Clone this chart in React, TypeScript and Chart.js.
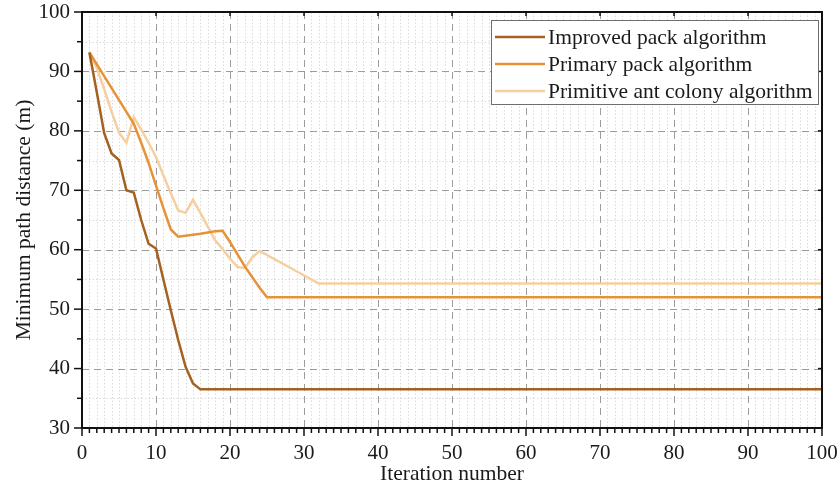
import React, { useEffect, useRef } from "react";
import { Chart, registerables } from "chart.js";

Chart.register(...registerables);

// Series vertices (iteration number, minimum path distance)
const improvedIter = [1, 2, 3, 4, 5, 6, 7, 8, 9, 10, 11, 12, 13, 14, 15, 16, 100];
const improvedVal = [93.2, 86.5, 79.6, 76.2, 75.1, 70.0, 69.6, 65.0, 61.0, 60.2, 55.0, 49.8, 44.8, 40.3, 37.5, 36.5, 36.5];

const primaryIter = [1, 6, 7, 8, 9, 10, 11, 12, 13, 16, 18, 19, 20, 22, 24, 25, 100];
const primaryVal = [93.2, 83.2, 81.2, 78.0, 74.6, 70.8, 67.0, 63.4, 62.2, 62.7, 63.1, 63.2, 61.3, 57.2, 53.6, 52.0, 52.0];

const antIter = [1, 2, 3, 4, 5, 6, 7, 8, 9, 10, 11, 12, 13, 14, 15, 16, 17, 18, 19, 20, 21, 22, 23, 24, 32, 100];
const antVal = [93.2, 90.6, 87.0, 83.2, 79.7, 78.0, 82.3, 80.2, 78.0, 75.6, 72.5, 69.5, 66.6, 66.2, 68.4, 66.2, 63.9, 61.6, 60.1, 58.5, 57.1, 56.9, 58.7, 59.8, 54.3, 54.3];

const seriesLabels = ["Improved pack algorithm", "Primary pack algorithm", "Primitive ant colony algorithm"];
const seriesColors = ["#a4611f", "#e69237", "#f6cfa0"];

const xTicks = [0, 10, 20, 30, 40, 50, 60, 70, 80, 90, 100];
const yTicks = [30, 40, 50, 60, 70, 80, 90, 100];

const FONT = "'Liberation Serif', 'Times New Roman', serif";

const decorPlugin = {
  id: "decor",
  beforeDatasetsDraw(chart: any) {
    const { ctx, chartArea: a, scales } = chart;
    const xs = scales.x;
    const ys = scales.y;
    ctx.save();
    // minor grid
    ctx.strokeStyle = "rgba(190,190,190,0.55)";
    ctx.lineWidth = 1;
    ctx.setLineDash([1.5, 2]);
    for (let v = 1; v < 100; v++) {
      if (v % 10 === 0) continue;
      const px = Math.round(xs.getPixelForValue(v)) + 0.5;
      ctx.beginPath();
      ctx.moveTo(px, a.top);
      ctx.lineTo(px, a.bottom);
      ctx.stroke();
    }
    for (let v = 35; v < 100; v += 10) {
      const py = Math.round(ys.getPixelForValue(v)) + 0.5;
      ctx.beginPath();
      ctx.moveTo(a.left, py);
      ctx.lineTo(a.right, py);
      ctx.stroke();
    }
    // major grid
    ctx.strokeStyle = "#9c9c9c";
    ctx.setLineDash([7, 5]);
    for (const v of xTicks) {
      if (v === 0 || v === 100) continue;
      const px = Math.round(xs.getPixelForValue(v)) + 0.5;
      ctx.beginPath();
      ctx.moveTo(px, a.top);
      ctx.lineTo(px, a.bottom);
      ctx.stroke();
    }
    for (const v of yTicks) {
      if (v === 30 || v === 100) continue;
      const py = Math.round(ys.getPixelForValue(v)) + 0.5;
      ctx.beginPath();
      ctx.moveTo(a.left, py);
      ctx.lineTo(a.right, py);
      ctx.stroke();
    }
    ctx.restore();
  },
  afterDraw(chart: any) {
    const { ctx, chartArea: a, scales } = chart;
    const xs = scales.x;
    const ys = scales.y;
    ctx.save();
    ctx.setLineDash([]);
    ctx.strokeStyle = "#111";
    // ticks
    ctx.lineWidth = 1.5;
    for (let v = 0; v <= 100; v++) {
      const px = xs.getPixelForValue(v);
      const major = v % 10 === 0;
      ctx.beginPath();
      ctx.moveTo(px, a.bottom);
      ctx.lineTo(px, a.bottom + (major ? 8 : 5));
      ctx.stroke();
      if (major) {
        ctx.beginPath();
        ctx.moveTo(px, a.top);
        ctx.lineTo(px, a.top + 4);
        ctx.stroke();
      }
    }
    for (let v = 30; v <= 100; v += 5) {
      const py = ys.getPixelForValue(v);
      const major = v % 10 === 0;
      ctx.beginPath();
      ctx.moveTo(a.left, py);
      ctx.lineTo(a.left - (major ? 8 : 5), py);
      ctx.stroke();
      if (major) {
        ctx.beginPath();
        ctx.moveTo(a.right, py);
        ctx.lineTo(a.right - 4, py);
        ctx.stroke();
      }
    }
    // frame
    ctx.lineWidth = 2;
    ctx.strokeRect(a.left, a.top, a.right - a.left, a.bottom - a.top);

    // legend (in series order)
    const bx = 491, by = 20, bw = 327, bh = 84;
    ctx.fillStyle = "#fff";
    ctx.fillRect(bx, by, bw, bh);
    ctx.strokeStyle = "#6e6e6e";
    ctx.lineWidth = 1;
    ctx.strokeRect(bx + 0.5, by + 0.5, bw, bh);
    ctx.font = "21.5px " + FONT;
    ctx.textBaseline = "middle";
    ctx.textAlign = "left";
    seriesLabels.forEach((label, i) => {
      const cy = by + 17 + i * 27;
      ctx.strokeStyle = seriesColors[i];
      ctx.lineWidth = 2.5;
      ctx.beginPath();
      ctx.moveTo(bx + 4, cy);
      ctx.lineTo(bx + 54, cy);
      ctx.stroke();
      ctx.fillStyle = "#1a1a1a";
      ctx.fillText(label, bx + 57, cy + 1);
    });
    ctx.restore();
  },
};

function toPoints(xs: number[], ys: number[]) {
  return xs.map((x, i) => ({ x, y: ys[i] }));
}

export default function App() {
  const ref = useRef<HTMLCanvasElement | null>(null);
  useEffect(() => {
    if (!ref.current) return;
    const datasets = [
      { label: seriesLabels[0], data: toPoints(improvedIter, improvedVal) },
      { label: seriesLabels[1], data: toPoints(primaryIter, primaryVal) },
      { label: seriesLabels[2], data: toPoints(antIter, antVal) },
    ].map((d, i) => ({
      ...d,
      borderColor: seriesColors[i],
      backgroundColor: seriesColors[i],
      borderWidth: 2.5,
      pointRadius: 0,
      tension: 0,
      fill: false,
      order: i,
    }));
    const chart = new Chart(ref.current, {
      type: "line",
      data: { datasets },
      options: {
        animation: false,
        responsive: false,
        maintainAspectRatio: false,
        layout: { padding: { left: 0, right: 15, top: 12, bottom: 0 } },
        plugins: { legend: { display: false }, tooltip: { enabled: false } },
        scales: {
          x: {
            type: "linear",
            min: 0,
            max: 100,
            afterBuildTicks: (s: any) => {
              s.ticks = xTicks.map((v) => ({ value: v }));
            },
            afterFit: (s: any) => {
              s.height = 62;
              s.paddingLeft = 0;
              s.paddingRight = 0;
            },
            ticks: { font: { family: FONT, size: 21 }, color: "#1a1a1a", padding: 5, maxRotation: 0, autoSkip: false },
            grid: { display: false },
            border: { display: false },
            title: { display: true, text: "Iteration number", font: { family: FONT, size: 21.5 }, color: "#1a1a1a", padding: { top: 0, bottom: 3 } },
          },
          y: {
            type: "linear",
            min: 30,
            max: 100,
            afterBuildTicks: (s: any) => {
              s.ticks = yTicks.map((v) => ({ value: v }));
            },
            afterFit: (s: any) => {
              s.width = 82;
              s.paddingTop = 0;
              s.paddingBottom = 0;
            },
            ticks: { font: { family: FONT, size: 21 }, color: "#1a1a1a", padding: 4, autoSkip: false },
            grid: { display: false },
            border: { display: false },
            title: { display: true, text: "Minimum path distance (m)", font: { family: FONT, size: 21.5 }, color: "#1a1a1a", padding: { top: 11, bottom: 0 } },
          },
        },
      },
      plugins: [decorPlugin],
    } as any);
    return () => chart.destroy();
  }, []);
  return (
    <div style={{ position: "fixed", left: 0, top: 0, width: 837, height: 490, background: "#fff" }}>
      <canvas ref={ref} width={837} height={490} style={{ width: 837, height: 490, display: "block" }} />
    </div>
  );
}
